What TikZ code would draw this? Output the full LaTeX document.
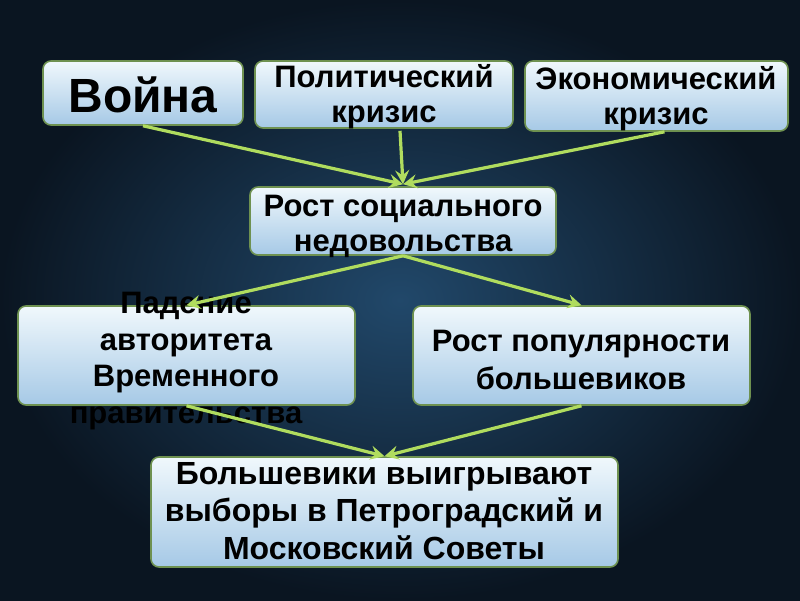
\documentclass[tikz,border=0pt]{standalone}
\usepackage{fontspec}
\setmainfont{Liberation Sans}
\usetikzlibrary{arrows.meta}

\definecolor{bgmid}{HTML}{21486A}
\definecolor{bgedge}{HTML}{0A1521}
\definecolor{boxtop}{HTML}{F0F8FC}
\definecolor{boxbot}{HTML}{A6C9E6}
\definecolor{boxline}{HTML}{6E9150}
\definecolor{arrcol}{HTML}{B0DC5E}

\tikzset{
  box/.style={draw=boxline, line width=1.6pt, rounded corners=8pt,
    top color=boxtop, bottom color=boxbot, inner sep=0pt},
  lbl/.style={font=\bfseries\fontsize{31}{35}\selectfont, align=center, text=black},
  arr/.style={draw=arrcol, line width=3.2pt, -{Stealth[length=14pt,width=14pt,inset=5pt]}}
}

\begin{document}
\begin{tikzpicture}[x=1pt,y=-1pt]
        \useasboundingbox (0,0) rectangle (800,600);
        % background
        \shade[inner color=bgmid, outer color=bgedge] (0,0) rectangle (800,600);

        % boxes
        \node[box, minimum width=200, minimum height=64] (war) at (143,93) {};
        \node[box, minimum width=258, minimum height=67] (polit) at (384,94.5) {};
        \node[box, minimum width=263, minimum height=70] (econ) at (656.5,96) {};
        \node[box, minimum width=306, minimum height=68] (social) at (403,221) {};
        \node[box, minimum width=337, minimum height=99] (fall) at (186.5,355.5) {};
        \node[box, minimum width=337, minimum height=99] (pop) at (581.5,355.5) {};
        \node[box, minimum width=467, minimum height=110] (win) at (384.5,512) {};

        % texts
        \node[lbl, font=\bfseries\fontsize{48}{50}\selectfont] (warT) at (143,95) {Война};
        \node[lbl] (politT) at (384,97) {Политический\\кризис};
        \node[lbl] (econT) at (656,99) {Экономический\\кризис};
        \node[lbl] (socialT) at (403,226) {Рост социального\\недовольства};
        \node[lbl, font=\bfseries\fontsize{31}{36.5}\selectfont] (fallT) at (186,361) {Падение\\авторитета\\Временного\\правительства};
        \node[lbl, font=\bfseries\fontsize{31}{38}\selectfont] (popT) at (581,360) {Рост популярности\\большевиков};
        \node[lbl, font=\bfseries\fontsize{32}{37.5}\selectfont] (winT) at (384,511) {Большевики выигрывают\\выборы в Петроградский и\\Московский Советы};

        % connectors
        \coordinate (politOut) at ([xshift=16pt,yshift=-2pt]polit.south);
        \coordinate (socialIn) at ([yshift=2pt]social.north);
        \draw[arr] (war.south) -- (socialIn);
        \draw[arr] (politOut) -- (socialIn);
        \draw[arr] ([xshift=8pt]econ.south) -- (socialIn);
        \draw[arr] (social.south) -- (fall.north);
        \draw[arr] (social.south) -- (pop.north);
        \draw[arr] (fall.south) -- (win.north);
        \draw[arr] (pop.south) -- (win.north);

    \end{tikzpicture}
\end{document}
